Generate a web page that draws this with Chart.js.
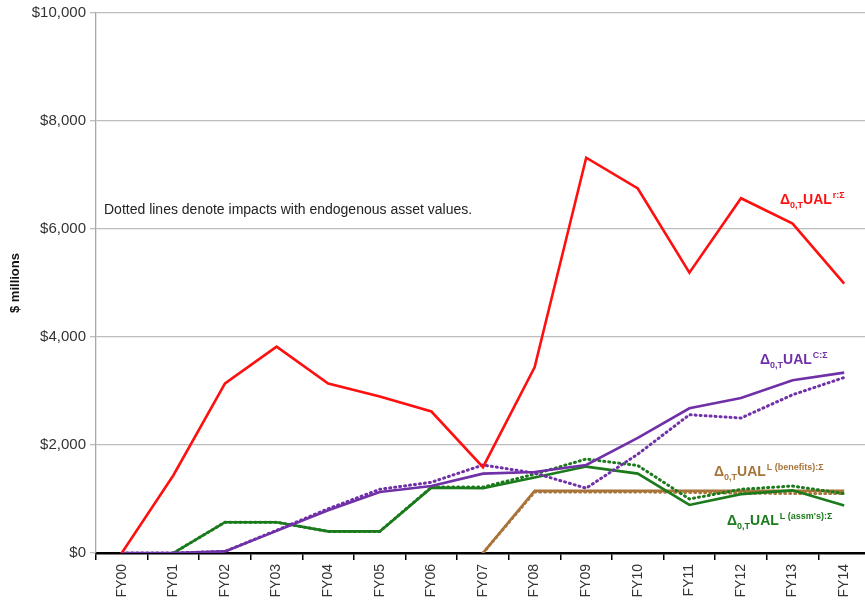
<!DOCTYPE html>
<html>
<head>
<meta charset="utf-8">
<script src="https://cdn.jsdelivr.net/npm/chart.js@4"></script>
<style>
  html, body { margin: 0; padding: 0; background: #fff; overflow: hidden; }
  #wrap { width: 870px; height: 604px; }
</style>
</head>
<body>
<div id="wrap"><canvas id="ualChart" width="870" height="604"></canvas></div>
<script>
// categories
var years = ['FY00','FY01','FY02','FY03','FY04','FY05','FY06','FY07','FY08','FY09','FY10','FY11','FY12','FY13','FY14'];

// series ($ millions), solid = exogenous assets, dotted = endogenous asset values
var ualR      = [0, 1440, 3140, 3820, 3140, 2900, 2620, 1590, 3440, 7320, 6750, 5190, 6570, 6100, 4990];
var ualC      = [0, 0, 30, 410, 790, 1130, 1240, 1470, 1500, 1630, 2130, 2680, 2870, 3200, 3340];
var ualCDot   = [0, 0, 30, 420, 820, 1180, 1310, 1630, 1480, 1200, 1830, 2560, 2500, 2930, 3250];
var ualLben   = [null, null, null, null, null, null, null, 0, 1150, 1150, 1150, 1150, 1150, 1150, 1150];
var ualLbenDot= [null, null, null, null, null, null, null, 0, 1130, 1130, 1130, 1120, 1110, 1100, 1100];
var ualLassm  = [null, 0, 570, 570, 400, 400, 1210, 1200, 1400, 1600, 1470, 890, 1090, 1160, 880];
var ualLassmDot=[null, 0, 570, 570, 400, 400, 1220, 1220, 1460, 1740, 1620, 1000, 1180, 1240, 1100];

// y axis ticks
var yMin = 0, yMax = 10000, yStep = 2000;

var RED = '#ff1010', PURPLE = '#7030a8', GREEN = '#1b7a1b', BROWN = '#a8743a';
var FONT = '"Liberation Sans", Arial, sans-serif';

function solid(data, color) {
    return { data: data, borderColor: color, borderWidth: 2.6, pointRadius: 0, fill: false, tension: 0 };
}
function dotted(data, color) {
    return { data: data, borderColor: color, borderWidth: 3, borderDash: [1, 4], borderCapStyle: 'round', pointRadius: 0, fill: false, tension: 0 };
}

// labels with sub/superscripts
function drawUal(ctx, x, y, sup, color) {
    ctx.save();
    ctx.fillStyle = color;
    ctx.textBaseline = 'alphabetic';
    ctx.font = 'bold 14px ' + FONT;
    ctx.fillText('\u0394', x, y);
    x += ctx.measureText('\u0394').width;
    ctx.font = 'bold 9px ' + FONT;
    ctx.fillText('0,T', x, y + 4);
    x += ctx.measureText('0,T').width;
    ctx.font = 'bold 14px ' + FONT;
    ctx.fillText('UAL', x, y);
    x += ctx.measureText('UAL').width + 1;
    ctx.font = 'bold 9px ' + FONT;
    ctx.fillText(sup, x, y - 6);
    ctx.restore();
}

var notesPlugin = {
    id: 'notes',
    afterDatasetsDraw: function(chart) {
        var ctx = chart.ctx;
        ctx.save();
        ctx.fillStyle = '#222';
        ctx.font = '14px ' + FONT;
        ctx.fillText('Dotted lines denote impacts with endogenous asset values.', 104, 214);
        ctx.restore();
        drawUal(ctx, 780, 204, 'r:\u03A3', RED);
        drawUal(ctx, 760, 364, 'C:\u03A3', PURPLE);
        drawUal(ctx, 714, 476, 'L (benefits):\u03A3', BROWN);
        drawUal(ctx, 727, 525, 'L (assm\'s):\u03A3', GREEN);
    }
};

var ctx = document.getElementById('ualChart').getContext('2d');
var ualChart = new Chart(ctx, {
    type: 'line',
    data: {
        labels: years,
        datasets: [
            solid(ualR, RED),
            solid(ualC, PURPLE),
            dotted(ualCDot, PURPLE),
            solid(ualLassm, GREEN),
            dotted(ualLassmDot, GREEN),
            solid(ualLben, BROWN),
            dotted(ualLbenDot, BROWN)
        ]
    },
    options: {
        responsive: false,
        animation: false,
        layout: { padding: { top: 12, right: 0, bottom: 0, left: 8 } },
        plugins: { legend: { display: false }, tooltip: { enabled: false } },
        scales: {
            x: {
                offset: true,
                grid: { offset: true, drawOnChartArea: false, drawTicks: true, tickLength: 7, color: '#000', lineWidth: 1.5 },
                border: { color: '#000', width: 2.5 },
                ticks: {
                    maxRotation: 90, minRotation: 90, autoSkip: false,
                    color: '#333', padding: 4,
                    font: { family: FONT, size: 14 }
                },
                afterFit: function(scale) { scale.height = 51; }
            },
            y: {
                min: yMin, max: yMax,
                ticks: {
                    stepSize: yStep, color: '#333', padding: 4,
                    font: { family: FONT, size: 15 },
                    callback: function(v) { return '$' + v.toLocaleString('en-US'); }
                },
                grid: { color: '#bdbdbd', lineWidth: 1.3, tickLength: 6 },
                border: { color: '#a8a8a8', width: 1.3 },
                title: {
                    display: true, text: '$ millions', color: '#111', padding: { top: 0, bottom: 4 },
                    font: { family: FONT, size: 13, weight: 'bold' }
                },
                afterFit: function(scale) { scale.width = 88; }
            }
        }
    },
    plugins: [notesPlugin]
});
</script>
</body>
</html>
